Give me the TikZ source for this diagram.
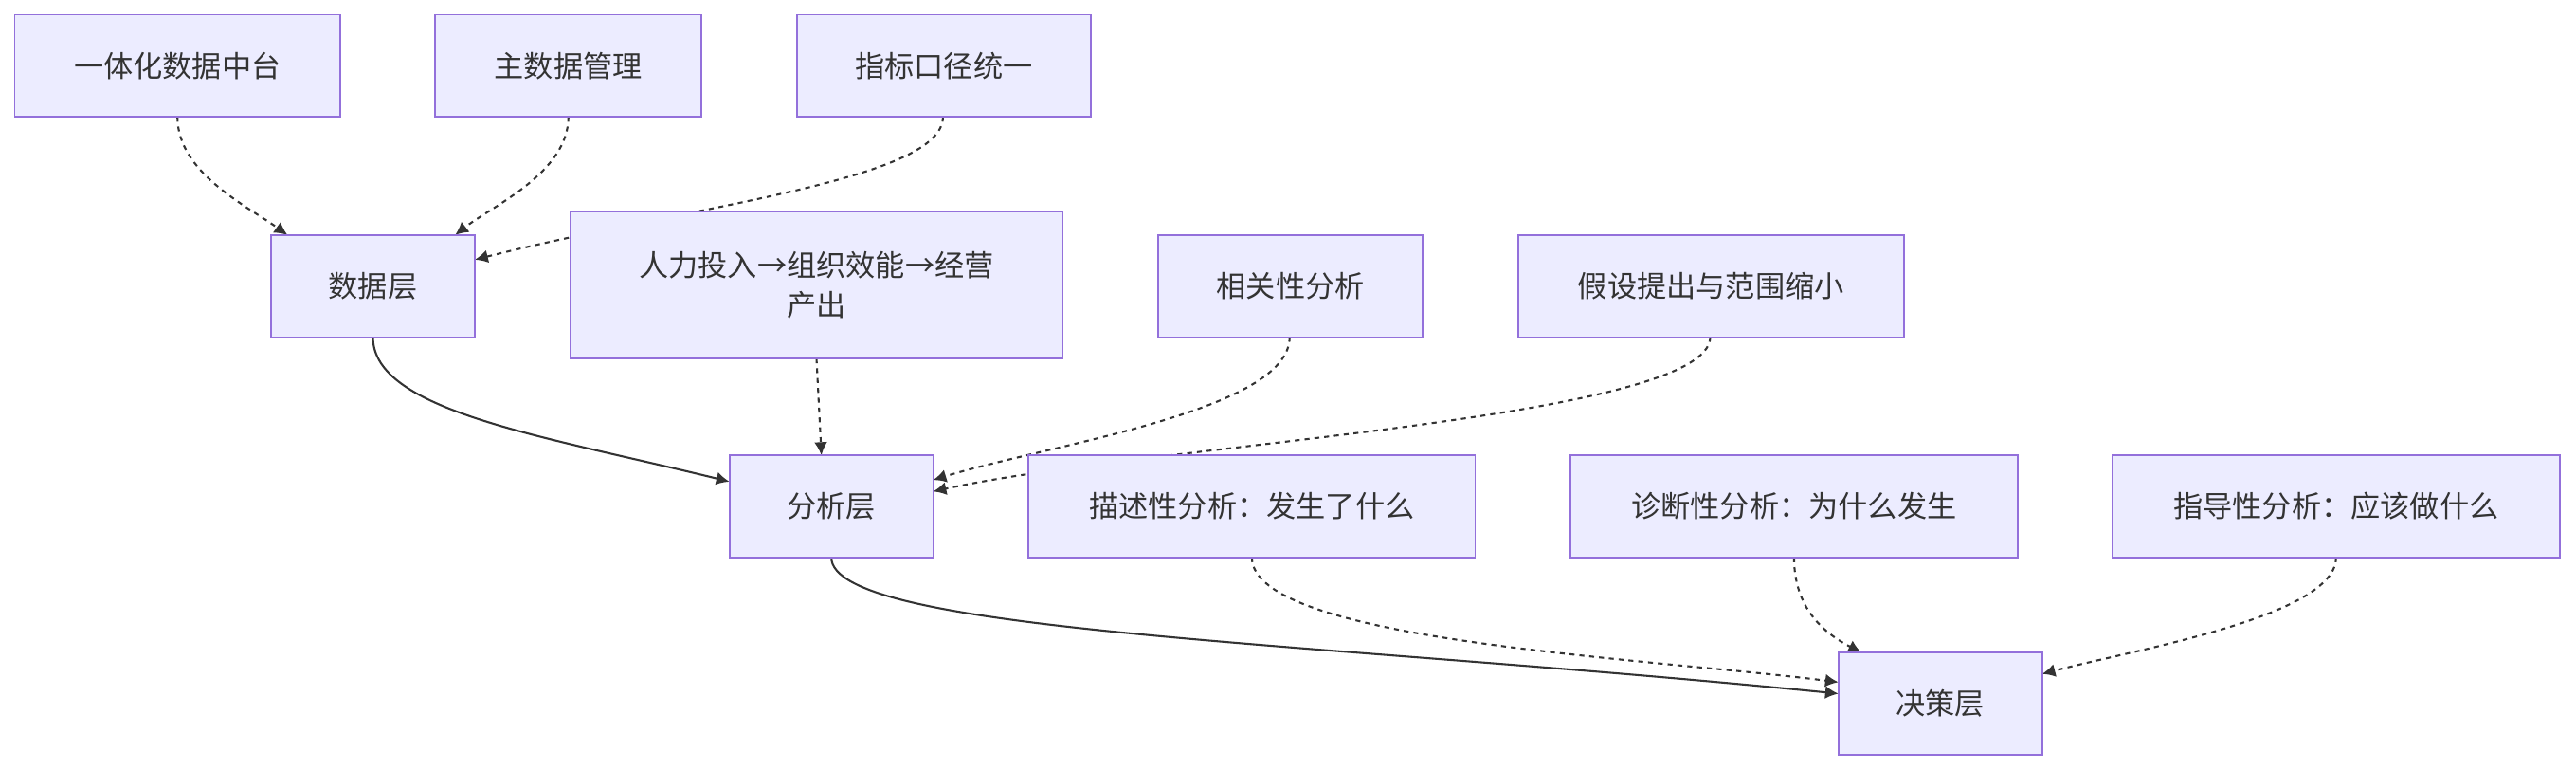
\documentclass[tikz,border=0pt]{standalone}
\usepackage{fontspec}
\setmainfont{Noto Sans CJK SC}
\usetikzlibrary{arrows.meta}
\definecolor{boxfill}{HTML}{ECECFF}
\definecolor{boxline}{HTML}{9370DB}
\definecolor{edgecol}{HTML}{333333}
\tikzset{
  box/.style={draw=boxline,fill=boxfill,line width=0.5pt,inner sep=0pt,align=center,
    font=\fontsize{9}{12}\selectfont,text=edgecol},
  link/.style={draw=edgecol,line width=0.6pt,-{Latex[length=4pt,width=4pt]}},
  dep/.style={link,dash pattern={on 1.5pt off 1.5pt}}
}
\begin{document}
\begin{tikzpicture}[x=0.5pt,y=0.5pt,yscale=-1]
\useasboundingbox (0,0) rectangle (1568,468);
% edges first, the boxes are drawn on top
\coordinate (d1) at (175,143);
\coordinate (d2) at (277,143);
\coordinate (d3) at (289,158);
\coordinate (a1) at (444,293);
\coordinate (a2) at (568,292);
\coordinate (a3) at (568,299);
\coordinate (j1) at (1119,422);
\coordinate (j2) at (1119,415);
\coordinate (j3) at (1133,397);
\coordinate (j4) at (1243,410);
\draw[dep] (108,71) .. controls (108,105) and (150,125) .. (d1);
\draw[dep] (346,71) .. controls (346,105) and (300,125) .. (d2);
\draw[dep] (574,71) .. controls (574,110) and (420,125) .. (d3);
\draw[link] (227,205) .. controls (227,250) and (330,265) .. (a1);
\draw[dep] (497,218) -- (500,277);
\draw[dep] (785,205) .. controls (785,250) and (640,270) .. (a2);
\draw[dep] (1041,205) .. controls (1041,255) and (700,270) .. (a3);
\draw[link] (506,339) .. controls (506,385) and (800,390) .. (j1);
\draw[dep] (762,339) .. controls (762,390) and (1000,400) .. (j2);
\draw[dep] (1092,339) .. controls (1092,370) and (1110,385) .. (j3);
\draw[dep] (1422,339) .. controls (1422,375) and (1300,395) .. (j4);
% boxes
\node[box,minimum width=99pt,minimum height=31pt] (zt) at (108,40) {一体化数据中台};
\node[box,minimum width=81pt,minimum height=31pt] (zsj) at (346,40) {主数据管理};
\node[box,minimum width=89.5pt,minimum height=31pt] (zb) at (574.5,40) {指标口径统一};
\node[box,minimum width=62pt,minimum height=31pt] (sjc) at (227,174) {数据层};
\node[box,minimum width=150pt,minimum height=44.5pt] (rl) at (497,173.5) {人力投入→组织效能→经营\\产出};
\node[box,minimum width=80.5pt,minimum height=31pt] (xg) at (785.5,174) {相关性分析};
\node[box,minimum width=117.5pt,minimum height=31pt] (js) at (1041.5,174) {假设提出与范围缩小};
\node[box,minimum width=62pt,minimum height=31pt] (fxc) at (506,308) {分析层};
\node[box,minimum width=136pt,minimum height=31pt] (ms) at (762,308) {描述性分析：发生了什么};
\node[box,minimum width=136pt,minimum height=31pt] (zd) at (1092,308) {诊断性分析：为什么发生};
\node[box,minimum width=136pt,minimum height=31pt] (zdx) at (1422,308) {指导性分析：应该做什么};
\node[box,minimum width=62pt,minimum height=31pt] (jcc) at (1181,428) {决策层};
\end{tikzpicture}
\end{document}
